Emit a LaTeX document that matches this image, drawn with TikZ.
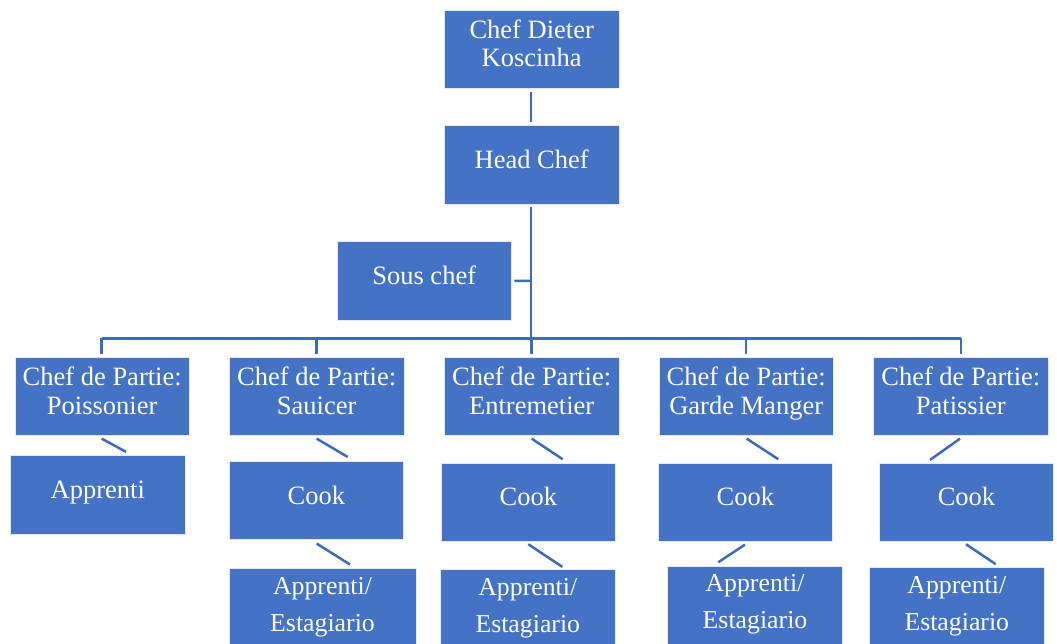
\documentclass[tikz,border=0pt]{standalone}
\usepackage{fontspec}
\setmainfont{Liberation Serif}
\definecolor{boxblue}{HTML}{4472C4}
\definecolor{lineblue}{HTML}{3E6ABA}
\newcommand{\boxtext}[1]{\raisebox{2.2pt}[\height][\depth]{\begin{tabular}{@{}c@{}}#1\end{tabular}}}
\tikzset{
  orgbox/.style={draw=white!85!boxblue, line width=0.8pt, fill=boxblue, text=white,
    minimum width=174.5pt, minimum height=78.3pt, inner sep=0pt,
    font=\fontsize{26.5}{28.5}\selectfont},
  lowbox/.style={orgbox, font=\fontsize{25.8}{37}\selectfont},
  conn/.style={draw=lineblue, line width=2.5pt}
}
\begin{document}
\begin{tikzpicture}[x=1pt,y=-1pt]
\useasboundingbox (0,0) rectangle (1057,644);
\clip (0,0) rectangle (1057,644);
% top levels
\node[orgbox] (dk) at (531.7,49.2) {\boxtext{Chef Dieter\\Koscinha}};
\node[orgbox] (hc) at (531.7,164.9) {\boxtext{Head Chef}};
\node[orgbox] (sc) at (424.2,280.8) {\boxtext{Sous chef}};
% chefs de partie
\node[orgbox] (po) at (102.2,396.5) {\boxtext{Chef de Partie:\\Poissonier}};
\node[orgbox] (sa) at (316.7,396.5) {\boxtext{Chef de Partie:\\Sauicer}};
\node[orgbox] (en) at (531.7,396.5) {\boxtext{Chef de Partie:\\Entremetier}};
\node[orgbox] (gm) at (746.2,396.5) {\boxtext{Chef de Partie:\\Garde Manger}};
\node[orgbox] (pa) at (960.8,396.5) {\boxtext{Chef de Partie:\\Patissier}};
% third level
\node[orgbox] (ap) at (97.8,494.8) {\boxtext{Apprenti}};
\node[orgbox] (cs) at (316.3,500.5) {\boxtext{Cook}};
\node[orgbox] (ce) at (528.3,502.2) {\boxtext{Cook}};
\node[orgbox] (cg) at (745.3,502.2) {\boxtext{Cook}};
\node[orgbox] (cp) at (966.5,502.2) {\boxtext{Cook}};
% fourth level
\node[lowbox, minimum width=187pt] (as) at (322.5,607.4) {\boxtext{Apprenti/\\Estagiario}};
\node[lowbox] (ae) at (527.8,608.6) {\boxtext{Apprenti/\\Estagiario}};
\node[lowbox] (ag) at (755.0,605.2) {\boxtext{Apprenti/\\Estagiario}};
\node[lowbox] (apt) at (956.8,607.0) {\boxtext{Apprenti/\\Estagiario}};
% trunk
\coordinate (bar) at (531.2,338.3);
\coordinate (barL) at (101.7,338.3);
\coordinate (barR) at (961.2,338.3);
\coordinate (trunk) at (531.2,281);
\draw[conn] ([xshift=-0.5pt,yshift=-3.4pt]dk.south) -- ([xshift=-0.5pt,yshift=3pt]hc.north);
\draw[conn] ([xshift=-0.5pt,yshift=-3pt]hc.south) -- (bar);
\draw[conn] ([xshift=2.5pt]sc.east) -- (trunk);
\draw[conn] (barL) -- (barR);
\draw[conn] (barL) -- ([xshift=-0.5pt,yshift=3.3pt]po.north);
\draw[conn] (sa.north |- bar) -- ([yshift=3.3pt]sa.north);
\draw[conn] (en.north |- bar) -- ([yshift=3.3pt]en.north);
\draw[conn] (gm.north |- bar) -- ([yshift=3.3pt]gm.north);
\draw[conn] (barR) -- ([xshift=0.4pt,yshift=3.3pt]pa.north);
% diagonal connectors level 2 -> 3
\draw[conn] ([xshift=-0.5pt,yshift=-2.6pt]po.south) -- ([xshift=28.2pt,yshift=3.4pt]ap.north);
\draw[conn] ([yshift=-2.6pt]sa.south) -- ([xshift=31.4pt,yshift=4pt]cs.north);
\draw[conn] ([yshift=-2.6pt]en.south) -- ([xshift=34.4pt,yshift=3.4pt]ce.north);
\draw[conn] ([xshift=0.5pt,yshift=-2.6pt]gm.south) -- ([xshift=33pt,yshift=3.4pt]cg.north);
\draw[conn] ([xshift=-0.8pt,yshift=-2.6pt]pa.south) -- ([xshift=-36.5pt,yshift=2.7pt]cp.north);
% diagonal connectors level 3 -> 4
\draw[conn] ([xshift=0.4pt,yshift=-3.5pt]cs.south) -- ([xshift=27.5pt,yshift=3.3pt]as.north);
\draw[conn] ([yshift=-2.5pt]ce.south) -- ([xshift=34.5pt,yshift=2.2pt]ae.north);
\draw[conn] ([xshift=-0.3pt,yshift=-2.8pt]cg.south) -- ([xshift=-36.7pt,yshift=3.4pt]ag.north);
\draw[conn] ([xshift=-0.5pt,yshift=-2.5pt]cp.south) -- ([xshift=38.9pt,yshift=3.3pt]apt.north);
\end{tikzpicture}
\end{document}
